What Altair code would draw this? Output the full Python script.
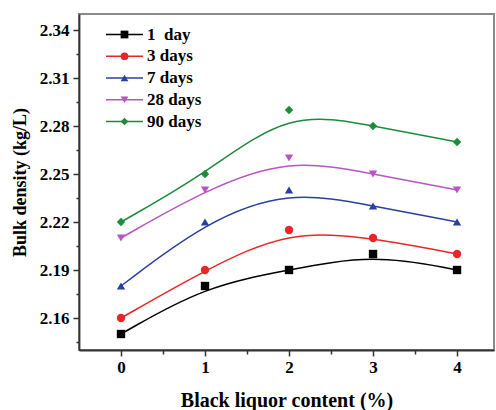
import altair as alt
import pandas as pd

# ---- data ----
content = [0, 1, 2, 3, 4]
series_names = ["1\u00a0 day", "3 days", "7 days", "28 days", "90 days"]
d1 = [2.15, 2.18, 2.19, 2.20, 2.19]
d3 = [2.16, 2.19, 2.215, 2.21, 2.20]
d7 = [2.18, 2.22, 2.24, 2.23, 2.22]
d28 = [2.21, 2.24, 2.26, 2.25, 2.24]
d90 = [2.22, 2.25, 2.29, 2.28, 2.27]
all_series = [d1, d3, d7, d28, d90]

x_ticks = [0, 0.5, 1, 1.5, 2, 2.5, 3, 3.5, 4]
y_ticks = [2.145, 2.16, 2.175, 2.19, 2.205, 2.22, 2.235, 2.25, 2.265,
           2.28, 2.295, 2.31, 2.325, 2.34]

colors = ["#000000", "#e8262a", "#2b3f9e", "#b955c0", "#1e8a3c"]
shapes = ["square", "circle", "triangle-up", "triangle-down", "diamond"]

rows = []
for name, vals in zip(series_names, all_series):
    for xv, yv in zip(content, vals):
        rows.append({"x": xv, "y": yv, "series": name})
df = pd.DataFrame(rows)
legend_df = pd.DataFrame({"series": series_names})

FONT = "Liberation Serif"

axis_style = dict(
    labelFont=FONT,
    labelFontSize=17,
    labelFontWeight="bold",
    labelColor="#000000",
    titleFont=FONT,
    titleFontWeight="bold",
    titleColor="#000000",
    domainColor="#333333",
    domainWidth=1.8,
    tickColor="#333333",
    tickWidth=1.5,
    grid=False,
)

x_enc = alt.X(
    "x:Q",
    scale=alt.Scale(domain=[-0.5, 4.44], nice=False, zero=False),
    axis=alt.Axis(
        title="Black liquor content (%)",
        values=x_ticks,
        labelExpr="datum.value % 1 == 0 ? format(datum.value, 'd') : ''",
        tickSize={"condition": {"test": "datum.value % 1 == 0", "value": 6}, "value": 4},
        labelPadding=3,
        titlePadding=15,
        titleFontSize=20,
        **axis_style,
    ),
)
y_enc = alt.Y(
    "y:Q",
    scale=alt.Scale(domain=[2.14, 2.35], nice=False, zero=False),
    axis=alt.Axis(
        title="Bulk density (kg/L)",
        values=y_ticks,
        labelExpr="abs(datum.value*100 - round(datum.value*100)) < 0.01 ? format(datum.value, '.2f') : ''",
        tickSize={"condition": {"test": "abs(datum.value*100 - round(datum.value*100)) < 0.01", "value": 6}, "value": 3},
        labelPadding=4,
        titlePadding=10,
        titleFontSize=18,
        **axis_style,
    ),
)

color_scale = alt.Scale(domain=series_names, range=colors)
shape_scale = alt.Scale(domain=series_names, range=shapes)

lines = alt.Chart(df).mark_line(interpolate="basis", strokeWidth=1.5).encode(
    x=x_enc,
    y=y_enc,
    color=alt.Color("series:N", scale=color_scale, legend=None),
    detail="series:N",
)

points = alt.Chart(df).mark_point(filled=True, size=70, opacity=1).encode(
    x=x_enc,
    y=y_enc,
    color=alt.Color("series:N", scale=color_scale, legend=None),
    shape=alt.Shape("series:N", scale=shape_scale, legend=None),
)

data_layers = alt.layer(lines, points)

# ---- legend (drawn inside the plot, top-left) ----
leg_y = alt.Y("series:N", scale=alt.Scale(type="point", domain=series_names, range=[20.5, 107.5], padding=0), axis=None)

leg_rules = alt.Chart(legend_df).mark_rule(strokeWidth=1.5).encode(
    x=alt.value(27), x2=alt.value(64), y=leg_y,
    color=alt.Color("series:N", scale=color_scale, legend=None),
)
leg_points = alt.Chart(legend_df).mark_point(filled=True, size=60, opacity=1).encode(
    x=alt.value(45.5), y=leg_y,
    color=alt.Color("series:N", scale=color_scale, legend=None),
    shape=alt.Shape("series:N", scale=shape_scale, legend=None),
)
leg_text = alt.Chart(legend_df).mark_text(
    align="left", baseline="middle", font=FONT, fontSize=17, fontWeight="bold", color="#000000"
).encode(
    x=alt.value(68), y=leg_y, text="series:N",
)
legend_layers = alt.layer(leg_rules, leg_points, leg_text)

chart = (
    alt.layer(data_layers, legend_layers)
    .resolve_scale(y="independent")
    .properties(
        width=415,
        height=336,
        padding={"left": 79, "top": 14, "right": 1, "bottom": 60},
        autosize=alt.AutoSizeParams(type="none"),
        background="white",
    )
    .configure(font=FONT)
    .configure_view(stroke="#8a8a8a", strokeWidth=2)
)

chart.save("out.html", embed_options={"renderer": "svg", "actions": False})
